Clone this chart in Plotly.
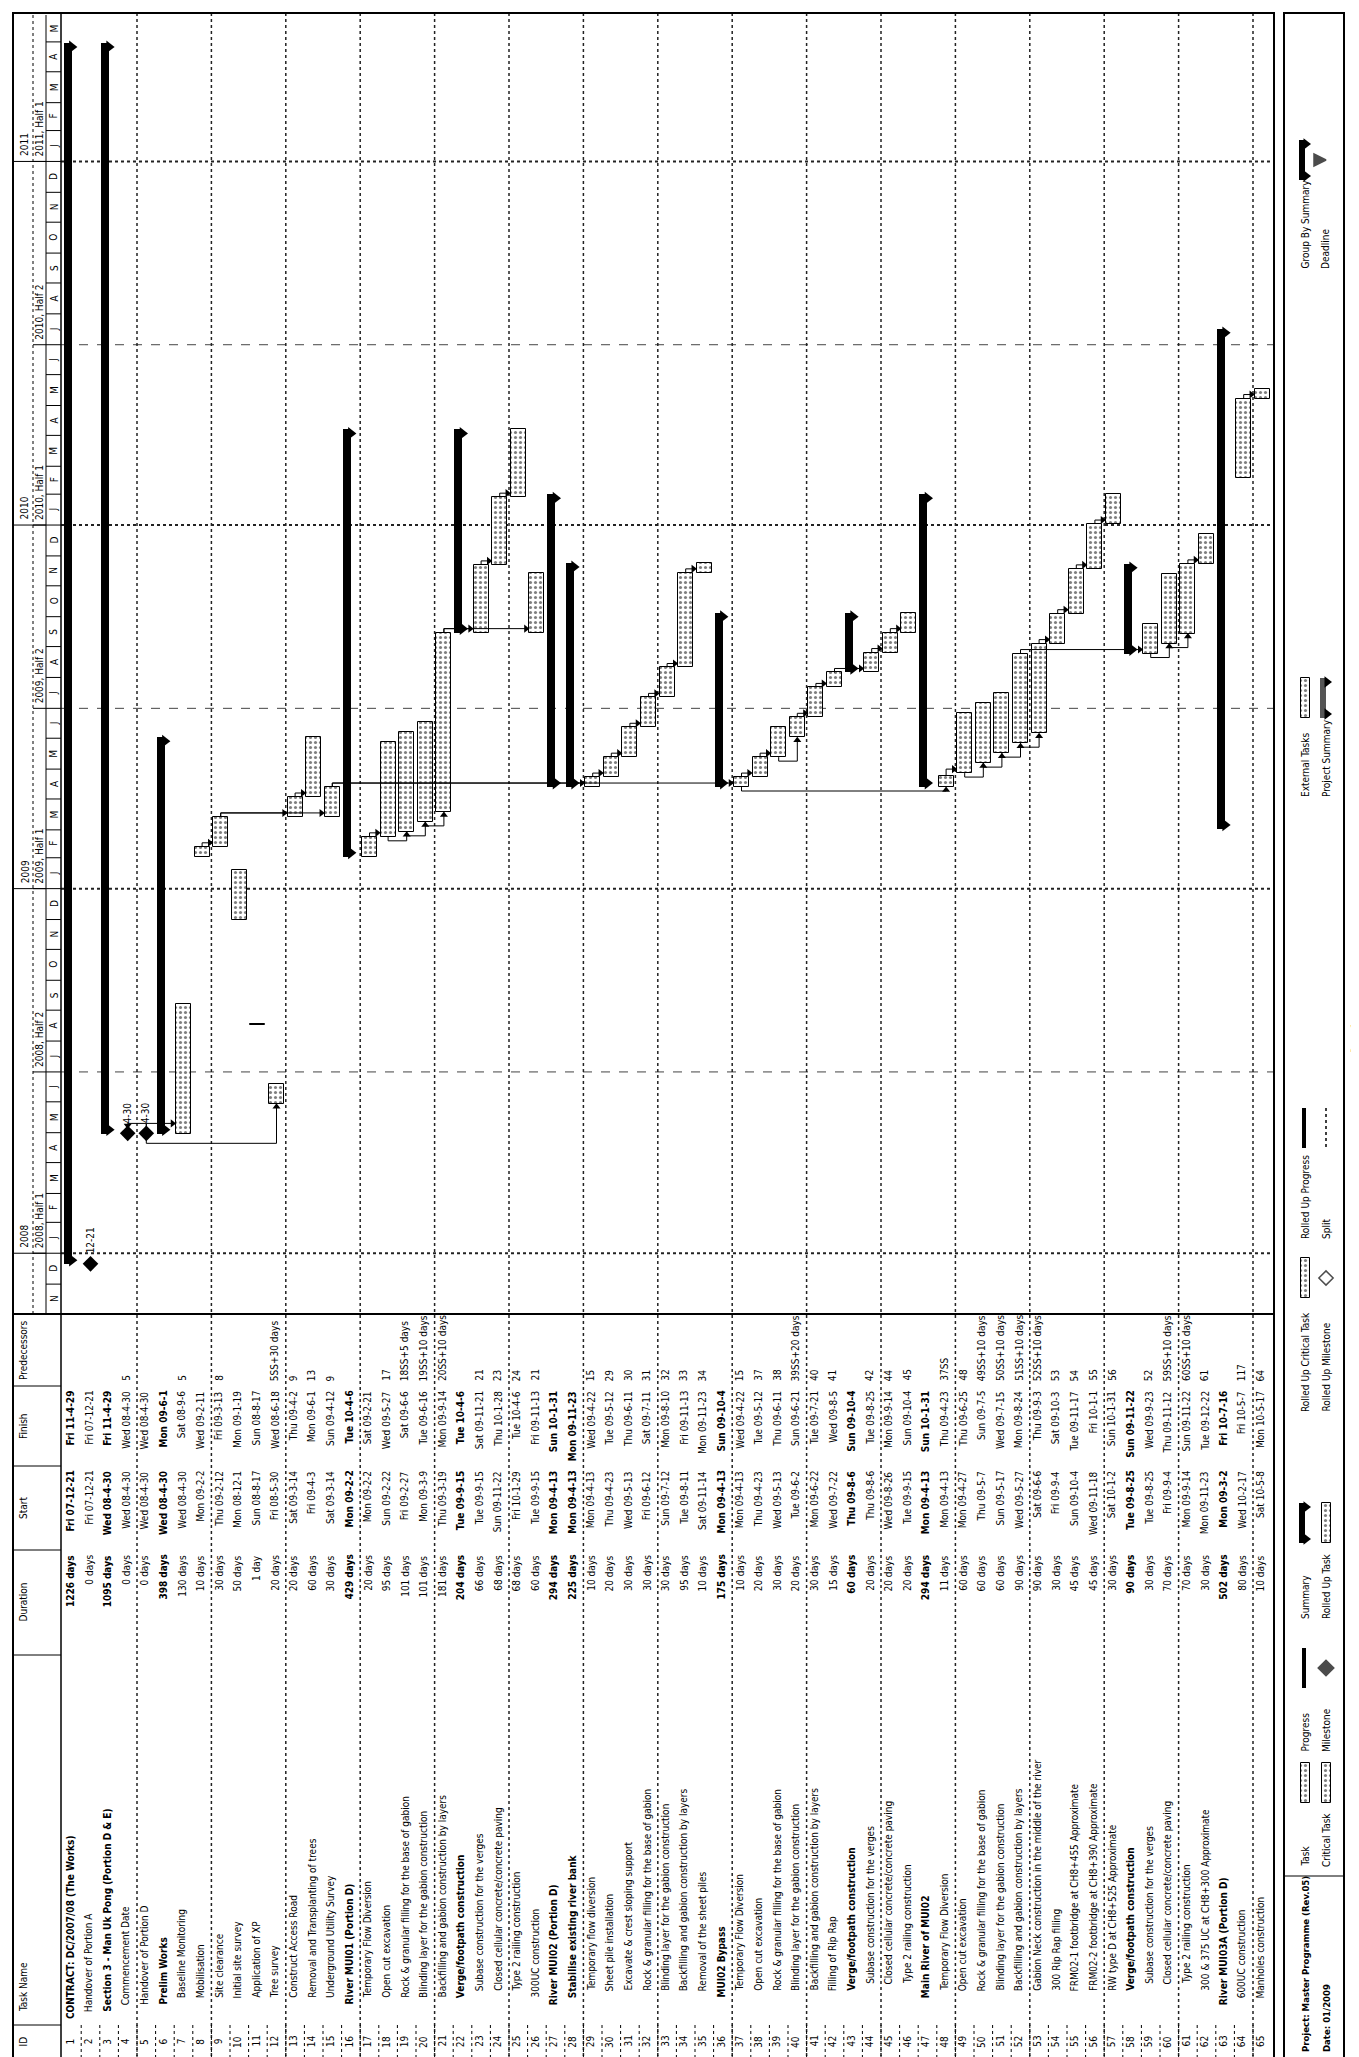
import re
from datetime import datetime, timedelta
import plotly.graph_objects as go

# ---------------------------------------------------------------- data
task_names = [
    "CONTRACT: DC/2007/08 (The Works)",
    "Handover of Portion A",
    "Section 3 - Man Uk Pong (Portion D & E)",
    "Commencement Date",
    "Handover of Portion D",
    "Prelim Works",
    "Baseline Monitoring",
    "Mobilisation",
    "Site clearance",
    "Initial site survey",
    "Application of XP",
    "Tree survey",
    "Construct Access Road",
    "Removal and Transplanting of trees",
    "Underground Utility Survey",
    "River MUI01 (Portion D)",
    "Temporary Flow Diversion",
    "Open cut excavation",
    "Rock & granular filling for the base of gabion",
    "Blinding layer for the gabion construction",
    "Backfilling and gabion construction by layers",
    "Verge/footpath construction",
    "Subase construction for the verges",
    "Closed cellular concrete/concrete paving",
    "Type 2 railing construction",
    "300UC construction",
    "River MUI02 (Portion D)",
    "Stabilise existing river bank",
    "Temporary flow diversion",
    "Sheet pile installation",
    "Excavate & crest sloping support",
    "Rock & granular filling for the base of gabion",
    "Blinding layer for the gabion construction",
    "Backfilling and gabion construction by layers",
    "Removal of the sheet piles",
    "MUI02 Bypass",
    "Temporary Flow Diversion",
    "Open cut excavation",
    "Rock & granular filling for the base of gabion",
    "Blinding layer for the gabion construction",
    "Backfilling and gabion construction by layers",
    "Filling of Rip Rap",
    "Verge/footpath construction",
    "Subase construction for the verges",
    "Closed cellular concrete/concrete paving",
    "Type 2 railing construction",
    "Main River of MUI02",
    "Temporary Flow Diversion",
    "Open cut excavation",
    "Rock & granular filling for the base of gabion",
    "Blinding layer for the gabion construction",
    "Backfilling and gabion construction by layers",
    "Gabion Neck construction in the middle of the river",
    "300 Rip Rap filling",
    "FRM02-1 footbridge at CH8+455 Approximate",
    "FRM02-2 footbridge at CH8+390 Approximate",
    "RW type D at CH8+525 Approximate",
    "Verge/footpath construction",
    "Subase construction for the verges",
    "Closed cellular concrete/concrete paving",
    "Type 2 railing construction",
    "300 & 375 UC at CH8+300 Approximate",
    "River MUI03A (Portion D)",
    "600UC construction",
    "Manholes construction",
]

outline_levels = [
    0, 1, 1, 2, 2, 2, 3, 3, 3, 3, 3, 3, 3, 3, 3,
    2, 3, 3, 3, 3, 3, 3, 4, 4, 4, 3,
    2, 3, 4, 4, 4, 4, 4, 4, 4,
    3, 4, 4, 4, 4, 4, 4, 4, 5, 5, 5,
    3, 4, 4, 4, 4, 4, 4, 4, 4, 4, 4, 4, 5, 5, 5, 4,
    2, 3, 3,
]

durations = [
    "1226 days", "0 days", "1095 days", "0 days", "0 days", "398 days", "130 days",
    "10 days", "30 days", "50 days", "1 day", "20 days", "20 days", "60 days",
    "30 days", "429 days", "20 days", "95 days", "101 days", "101 days", "181 days",
    "204 days", "66 days", "68 days", "68 days", "60 days", "294 days", "225 days",
    "10 days", "20 days", "30 days", "30 days", "30 days", "95 days", "10 days",
    "175 days", "10 days", "20 days", "30 days", "20 days", "30 days", "15 days",
    "60 days", "20 days", "20 days", "20 days", "294 days", "11 days", "60 days",
    "60 days", "60 days", "90 days", "90 days", "30 days", "45 days", "45 days",
    "30 days", "90 days", "30 days", "70 days", "70 days", "30 days", "502 days",
    "80 days", "10 days",
]

start_text = [
    "Fri 07-12-21", "Fri 07-12-21", "Wed 08-4-30", "Wed 08-4-30", "Wed 08-4-30",
    "Wed 08-4-30", "Wed 08-4-30", "Mon 09-2-2", "Thu 09-2-12", "Mon 08-12-1",
    "Sun 08-8-17", "Fri 08-5-30", "Sat 09-3-14", "Fri 09-4-3", "Sat 09-3-14",
    "Mon 09-2-2", "Mon 09-2-2", "Sun 09-2-22", "Fri 09-2-27", "Mon 09-3-9",
    "Thu 09-3-19", "Tue 09-9-15", "Tue 09-9-15", "Sun 09-11-22", "Fri 10-1-29",
    "Tue 09-9-15", "Mon 09-4-13", "Mon 09-4-13", "Mon 09-4-13", "Thu 09-4-23",
    "Wed 09-5-13", "Fri 09-6-12", "Sun 09-7-12", "Tue 09-8-11", "Sat 09-11-14",
    "Mon 09-4-13", "Mon 09-4-13", "Thu 09-4-23", "Wed 09-5-13", "Tue 09-6-2",
    "Mon 09-6-22", "Wed 09-7-22", "Thu 09-8-6", "Thu 09-8-6", "Wed 09-8-26",
    "Tue 09-9-15", "Mon 09-4-13", "Mon 09-4-13", "Mon 09-4-27", "Thu 09-5-7",
    "Sun 09-5-17", "Wed 09-5-27", "Sat 09-6-6", "Fri 09-9-4", "Sun 09-10-4",
    "Wed 09-11-18", "Sat 10-1-2", "Tue 09-8-25", "Tue 09-8-25", "Fri 09-9-4",
    "Mon 09-9-14", "Mon 09-11-23", "Mon 09-3-2", "Wed 10-2-17", "Sat 10-5-8",
]

finish_text = [
    "Fri 11-4-29", "Fri 07-12-21", "Fri 11-4-29", "Wed 08-4-30", "Wed 08-4-30",
    "Mon 09-6-1", "Sat 08-9-6", "Wed 09-2-11", "Fri 09-3-13", "Mon 09-1-19",
    "Sun 08-8-17", "Wed 08-6-18", "Thu 09-4-2", "Mon 09-6-1", "Sun 09-4-12",
    "Tue 10-4-6", "Sat 09-2-21", "Wed 09-5-27", "Sat 09-6-6", "Tue 09-6-16",
    "Mon 09-9-14", "Tue 10-4-6", "Sat 09-11-21", "Thu 10-1-28", "Tue 10-4-6",
    "Fri 09-11-13", "Sun 10-1-31", "Mon 09-11-23", "Wed 09-4-22", "Tue 09-5-12",
    "Thu 09-6-11", "Sat 09-7-11", "Mon 09-8-10", "Fri 09-11-13", "Mon 09-11-23",
    "Sun 09-10-4", "Wed 09-4-22", "Tue 09-5-12", "Thu 09-6-11", "Sun 09-6-21",
    "Tue 09-7-21", "Wed 09-8-5", "Sun 09-10-4", "Tue 09-8-25", "Mon 09-9-14",
    "Sun 09-10-4", "Sun 10-1-31", "Thu 09-4-23", "Thu 09-6-25", "Sun 09-7-5",
    "Wed 09-7-15", "Mon 09-8-24", "Thu 09-9-3", "Sat 09-10-3", "Tue 09-11-17",
    "Fri 10-1-1", "Sun 10-1-31", "Sun 09-11-22", "Wed 09-9-23", "Thu 09-11-12",
    "Sun 09-11-22", "Tue 09-12-22", "Fri 10-7-16", "Fri 10-5-7", "Mon 10-5-17",
]

predecessors = [
    "", "", "", "5", "", "", "5", "", "8", "", "", "5SS+30 days", "9", "13", "9",
    "", "", "17", "18SS+5 days", "19SS+10 days", "20SS+10 days", "", "21", "23", "24",
    "21", "", "", "15", "29", "30", "31", "32", "33", "34",
    "", "15", "37", "38", "39SS+20 days", "40", "41", "", "42", "44", "45",
    "", "37SS", "48", "49SS+10 days", "50SS+10 days", "51SS+10 days", "52SS+10 days",
    "53", "54", "55", "56", "", "52", "59SS+10 days", "60SS+10 days", "61",
    "", "117", "64",
]

summary_ids = [1, 3, 6, 16, 22, 27, 28, 36, 43, 47, 58, 63]
column_titles = ["ID", "Task Name", "Duration", "Start", "Finish", "Predecessors"]
month_letters = ["J", "F", "M", "A", "M", "J", "J", "A", "S", "O", "N", "D"]
timescale_years = [2008, 2009, 2010, 2011]
legend_row1 = ["Task", "Progress", "Summary", "Rolled Up Critical Task",
               "Rolled Up Progress", "External Tasks", "Group By Summary"]
legend_row2 = ["Critical Task", "Milestone", "Rolled Up Task", "Rolled Up Milestone",
               "Split", "Project Summary", "Deadline"]
project_title = "Project: Master Programme (Rev.05)"
project_date = "Date: 01/2009"
page_label = "Page 1"

# ---------------------------------------------------------------- geometry (px)
W, H = 1359, 2057
ROW1_X, ROW_PITCH = 63.9, 18.6
X_OUT, X_T1, X_T2, X_HDR, X_END = 5, 25, 38, 53, 1266
Y_OUT_T, Y_G_TOP, Y_G_BOT, Y_OUT_B = 5, 7, 1306, 2050
COL_EDGES = [1306, 1378, 1458, 1542, 1647, 2017, 2050]
T0 = datetime(2007, 11, 1)
T1 = datetime(2011, 5, 28)
FONT = "Liberation Sans Narrow, DejaVu Sans Condensed, Arial Narrow, sans-serif"
FS = 10


def xr(px):
    return 1 + (px - ROW1_X) / ROW_PITCH


def xp(px):
    return px / W


def yp(py):
    return 1 - py / H


def pdate(s):
    yy, mm, dd = s.split()[1].split("-")
    return datetime(2000 + int(yy), int(mm), int(dd))


def iso(d):
    return d.strftime("%Y-%m-%d %H:%M:%S")


task_ids = list(range(1, len(task_names) + 1))
starts = [pdate(s) for s in start_text]
finishes = [pdate(s) for s in finish_text]
is_ms = [d == "0 days" for d in durations]
is_sum = [k in summary_ids for k in task_ids]


def bar_start(k):
    i = k - 1
    return starts[i] + timedelta(hours=8) if is_ms[i] else starts[i]


def bar_end(k):
    i = k - 1
    return finishes[i] + timedelta(hours=8) if is_ms[i] else finishes[i] + timedelta(days=1)


def half_w(k):
    return 0.33 if is_ms[k - 1] else 0.4


annotations = []
shapes = []


def vtext(text, x, y, xref, yref, anchor, size=FS, bold=False, yshift=0):
    if bold:
        text = "<b>%s</b>" % text
    annotations.append(dict(text=text, x=x, y=y, xref=xref, yref=yref, textangle=-90,
                            showarrow=False, xanchor="center", yanchor=anchor, yshift=yshift,
                            borderpad=0, font=dict(family=FONT, size=size, color="black")))


def line(x0, y0, x1, y1, xref="paper", yref="paper", width=1, dash="solid",
         color="black", layer="above"):
    shapes.append(dict(type="line", x0=x0, y0=y0, x1=x1, y1=y1, xref=xref, yref=yref,
                       layer=layer, line=dict(width=width, dash=dash, color=color)))


fig = go.Figure()

# ---------------------------------------------------------------- gantt bars
t_rows = [k for k in task_ids if not is_ms[k - 1] and not is_sum[k - 1]]
fig.add_trace(go.Bar(
    x=t_rows,
    y=[(bar_end(k) - bar_start(k)).total_seconds() * 1000 for k in t_rows],
    base=[iso(bar_start(k)) for k in t_rows],
    width=0.8, orientation="v", hoverinfo="skip", showlegend=False,
    marker=dict(color="white", line=dict(color="black", width=1),
                pattern=dict(shape=".", fgcolor="black", bgcolor="white",
                             size=5, solidity=0.3)),
))

s_rows = [k for k in task_ids if is_sum[k - 1]]
fig.add_trace(go.Bar(
    x=[k - 0.22 for k in s_rows],
    y=[(bar_end(k) - bar_start(k)).total_seconds() * 1000 for k in s_rows],
    base=[iso(bar_start(k)) for k in s_rows],
    width=0.43, orientation="v", hoverinfo="skip", showlegend=False,
    marker=dict(color="black", line=dict(width=0)),
))
cap_x, cap_y = [], []
for k in s_rows:
    cap_x += [k, k]
    cap_y += [iso(bar_start(k) + timedelta(days=4)), iso(bar_end(k) - timedelta(days=4))]
fig.add_trace(go.Scatter(x=cap_x, y=cap_y, mode="markers", hoverinfo="skip", showlegend=False,
                         marker=dict(symbol="triangle-right", size=11, color="black",
                                     line=dict(width=0))))

m_rows = [k for k in task_ids if is_ms[k - 1]]
fig.add_trace(go.Scatter(x=m_rows, y=[iso(bar_start(k)) for k in m_rows], mode="markers",
                         hoverinfo="skip", showlegend=False,
                         marker=dict(symbol="diamond", size=12, color="black",
                                     line=dict(width=0))))
for k in m_rows:
    d = finishes[k - 1]
    annotations.append(dict(text="%d-%d" % (d.month, d.day), x=k, y=iso(bar_start(k)),
                            xref="x", yref="y", textangle=-90, showarrow=False,
                            xanchor="center", yanchor="bottom", yshift=8,
                            font=dict(family=FONT, size=FS, color="black")))

# ---------------------------------------------------------------- links
lx, ly = [], []
ax, ay, asym = [], [], []
for k, p in zip(task_ids, predecessors):
    if not p:
        continue
    for part in p.split(","):
        m = re.match(r"\s*(\d+)(FS|SS|FF|SF)?", part)
        pid = int(m.group(1))
        typ = m.group(2) or "FS"
        if pid not in task_ids:
            continue
        stub = timedelta(days=10 if is_ms[pid - 1] else 4)
        if typ == "SS":
            ps, ss = bar_start(pid), bar_start(k)
            yl = min(ps, ss) - stub
            lx += [pid, pid, k, k, None]
            ly += [iso(ps), iso(yl), iso(yl), iso(ss - timedelta(days=3)), None]
            ax.append(k)
            ay.append(iso(ss - timedelta(days=3)))
            asym.append("triangle-up")
        else:
            pe, ss = bar_end(pid), bar_start(k)
            ye = max(pe, ss) + stub
            if k > pid:
                xe = k - half_w(k) - 0.19
                lx += [pid, pid, xe, None]
                ly += [iso(pe), iso(ye), iso(ye), None]
                ax.append(xe)
                ay.append(iso(ye))
                asym.append("triangle-right")
            else:
                lx += [pid, pid, k, k, None]
                ly += [iso(pe), iso(ye), iso(ye), iso(ss + timedelta(days=8)), None]
                ax.append(k)
                ay.append(iso(ss + timedelta(days=8)))
                asym.append("triangle-down")
fig.add_trace(go.Scatter(x=lx, y=ly, mode="lines", hoverinfo="skip", showlegend=False,
                         line=dict(color="black", width=1)))
fig.add_trace(go.Scatter(x=ax, y=ay, mode="markers", hoverinfo="skip", showlegend=False,
                         marker=dict(symbol=asym, size=7, color="black", line=dict(width=0))))

# ---------------------------------------------------------------- table text
for k in task_ids:
    i = k - 1
    xk = k - 0.1
    b = is_sum[i]
    vtext(str(k), xk, yp((COL_EDGES[5] + COL_EDGES[6]) / 2), "x", "paper", "middle")
    vtext(task_names[i], xk, yp(COL_EDGES[5] - 5 - 7 * outline_levels[i]), "x", "paper",
          "bottom", bold=b)
    vtext(durations[i], xk, yp(COL_EDGES[3] + 4), "x", "paper", "top", bold=b)
    vtext(start_text[i], xk, yp(COL_EDGES[2] + 4), "x", "paper", "top", bold=b)
    vtext(finish_text[i], xk, yp(COL_EDGES[1] + 4), "x", "paper", "top", bold=b)
    if predecessors[i]:
        vtext(predecessors[i], xk, yp(COL_EDGES[1] - 4), "x", "paper", "bottom")

# column titles
hx = xp(15)
vtext(column_titles[0], hx, yp((COL_EDGES[5] + COL_EDGES[6]) / 2), "paper", "paper", "middle")
vtext(column_titles[1], hx, yp(COL_EDGES[5] - 12), "paper", "paper", "bottom")
vtext(column_titles[2], hx, yp((COL_EDGES[3] + COL_EDGES[4]) / 2), "paper", "paper", "middle")
vtext(column_titles[3], hx, yp((COL_EDGES[2] + COL_EDGES[3]) / 2), "paper", "paper", "middle")
vtext(column_titles[4], hx, yp((COL_EDGES[1] + COL_EDGES[2]) / 2), "paper", "paper", "middle")
vtext(column_titles[5], hx, yp((COL_EDGES[0] + COL_EDGES[1]) / 2), "paper", "paper", "middle")

# ---------------------------------------------------------------- timescale
month_starts = []
d = datetime(T0.year, T0.month, 1)
while d < T1:
    month_starts.append(d)
    d = datetime(d.year + (d.month == 12), d.month % 12 + 1, 1)
for i, ms in enumerate(month_starts):
    me = month_starts[i + 1] if i + 1 < len(month_starts) else T1
    mid = ms + (me - ms) / 2
    vtext(month_letters[ms.month - 1], xp(46), iso(mid), "paper", "y", "middle")
    if ms > T0:
        line(xp(X_T2), iso(ms), xp(X_HDR), iso(ms), yref="y", width=1)
for y in timescale_years:
    jan = datetime(y, 1, 1)
    line(xp(X_OUT), iso(jan), xp(X_T2), iso(jan), yref="y", width=1)
    vtext(str(y), xp(17), iso(jan), "paper", "y", "bottom", yshift=4)
    for h, hd in ((1, jan), (2, datetime(y, 7, 1))):
        if T0 < hd < T1:
            line(xp(X_T1), iso(hd), xp(X_T2), iso(hd), yref="y", width=1)
            vtext("%d, Half %d" % (y, h), xp(31.5), iso(hd), "paper", "y", "bottom",
                  yshift=4)
            if h == 1:
                line(xp(X_HDR), iso(hd), xp(X_END), iso(hd), yref="y", width=2,
                     dash="dot", color="#222", layer="below")
            else:
                line(xp(X_HDR), iso(hd), xp(X_END), iso(hd), yref="y", width=1,
                     dash="dash", color="#444", layer="below")

line(xp(X_T1), yp(Y_G_TOP), xp(X_T1), yp(Y_G_BOT), width=1, dash="dot")
line(xp(X_T2), yp(Y_G_TOP), xp(X_T2), yp(Y_G_BOT), width=1)

# ---------------------------------------------------------------- frame & grid
for k in range(4, len(task_ids), 4):
    line(k + 0.5, yp(Y_OUT_T), k + 0.5, yp(Y_OUT_B), xref="x", width=1.5, dash="dot",
         color="#222", layer="below")
for k in task_ids[:-1]:
    line(k + 0.5, yp(COL_EDGES[5]), k + 0.5, yp(Y_OUT_B), xref="x", width=1, dash="dot")
for e in COL_EDGES[1:6]:
    line(xp(X_OUT), yp(e), xp(X_HDR), yp(e), width=1)
line(xp(X_OUT), yp(Y_G_BOT), xp(X_END), yp(Y_G_BOT), width=2)
line(xp(X_HDR), yp(Y_OUT_T), xp(X_HDR), yp(Y_OUT_B), width=1.5)
shapes.append(dict(type="rect", xref="paper", yref="paper", x0=xp(X_OUT), x1=xp(X_END),
                   y0=yp(Y_OUT_B), y1=yp(Y_OUT_T), line=dict(color="black", width=2),
                   layer="above"))

# ---------------------------------------------------------------- footer / legend
FX0, FX1 = 1276, 1336
R1, R2 = 1297, 1318
shapes.append(dict(type="rect", xref="paper", yref="paper", x0=xp(FX0), x1=xp(FX1),
                   y0=yp(Y_OUT_B), y1=yp(Y_OUT_T), line=dict(color="black", width=2),
                   layer="above"))
line(xp(FX0), yp(1868), xp(FX1), yp(1868), width=1)
vtext(project_title, xp(R1), yp(2045), "paper", "paper", "bottom", size=9.5, bold=True)
vtext(project_date, xp(R2), yp(2045), "paper", "paper", "bottom", size=9.5, bold=True)
vtext(page_label, xp(1347), yp(1030), "paper", "paper", "middle")

label_starts = [1860, 1745, 1612, 1405, 1232, 790, 262]
swatch_centers = [1775, 1660, 1515, 1270, 1120, 690, 152]
for lab1, lab2, ls in zip(legend_row1, legend_row2, label_starts):
    vtext(lab1, xp(R1), yp(ls), "paper", "paper", "bottom")
    vtext(lab2, xp(R2), yp(ls), "paper", "paper", "bottom")

SW = 40
hatch_x = [R1, R2, R2, R1, R1]
hatch_c = [swatch_centers[0], swatch_centers[0], swatch_centers[2], swatch_centers[3],
           swatch_centers[5]]
fig.add_trace(go.Bar(
    x=hatch_x, y=[SW] * 5, base=[c - SW / 2 for c in hatch_c], width=9,
    xaxis="x2", yaxis="y2", hoverinfo="skip", showlegend=False,
    marker=dict(color="white", line=dict(color="black", width=1),
                pattern=dict(shape=".", fgcolor="black", bgcolor="white", size=5,
                             solidity=0.3)),
))
fig.add_trace(go.Bar(
    x=[R1 - 1, R1 - 1], y=[SW, SW],
    base=[swatch_centers[1] - SW / 2, swatch_centers[4] - SW / 2], width=4,
    xaxis="x2", yaxis="y2", hoverinfo="skip", showlegend=False,
    marker=dict(color="black", line=dict(width=0)),
))
fig.add_trace(go.Bar(
    x=[R1 - 3, R2 - 3, R1 - 3], y=[SW, SW, SW],
    base=[swatch_centers[2] - SW / 2, swatch_centers[5] - SW / 2, swatch_centers[6] - SW / 2],
    width=6, xaxis="x2", yaxis="y2", hoverinfo="skip", showlegend=False,
    marker=dict(color=["black", "#555", "black"], line=dict(width=0)),
))
cx, cy = [], []
for (rx, c) in ((R1, swatch_centers[2]), (R2, swatch_centers[5]), (R1, swatch_centers[6])):
    cx += [rx + 1, rx + 1]
    cy += [c - SW / 2 + 4, c + SW / 2 - 4]
fig.add_trace(go.Scatter(x=cx, y=cy, mode="markers", xaxis="x2", yaxis="y2",
                         hoverinfo="skip", showlegend=False,
                         marker=dict(symbol="triangle-right", size=10, color="black")))
fig.add_trace(go.Scatter(
    x=[R2, R2, R2], y=[swatch_centers[1], swatch_centers[3], swatch_centers[6]],
    mode="markers", xaxis="x2", yaxis="y2", hoverinfo="skip", showlegend=False,
    marker=dict(symbol=["diamond", "diamond-open", "arrow-right"], size=[12, 11, 12],
                color="black", line=dict(color="black", width=1.5))))
fig.add_trace(go.Scatter(
    x=[R2, R2], y=[swatch_centers[4] - SW / 2, swatch_centers[4] + SW / 2], mode="lines",
    xaxis="x2", yaxis="y2", hoverinfo="skip", showlegend=False,
    line=dict(color="black", width=1.5, dash="dot")))

# ---------------------------------------------------------------- layout
fig.update_layout(
    width=W, height=H, margin=dict(l=0, r=0, t=0, b=0),
    paper_bgcolor="white", plot_bgcolor="rgba(0,0,0,0)",
    barmode="overlay", bargap=0, showlegend=False,
    xaxis=dict(range=[xr(0), xr(W)], domain=[0, 1], visible=False, fixedrange=True),
    yaxis=dict(type="date", range=[iso(T0), iso(T1)], domain=[yp(Y_G_BOT), yp(Y_G_TOP)],
               visible=False, fixedrange=True),
    xaxis2=dict(range=[0, W], domain=[0, 1], anchor="y2", visible=False, fixedrange=True),
    yaxis2=dict(range=[H, 0], domain=[0, 1], anchor="x2", visible=False, fixedrange=True),
    shapes=shapes, annotations=annotations,
)

fig.write_html("out.html")
